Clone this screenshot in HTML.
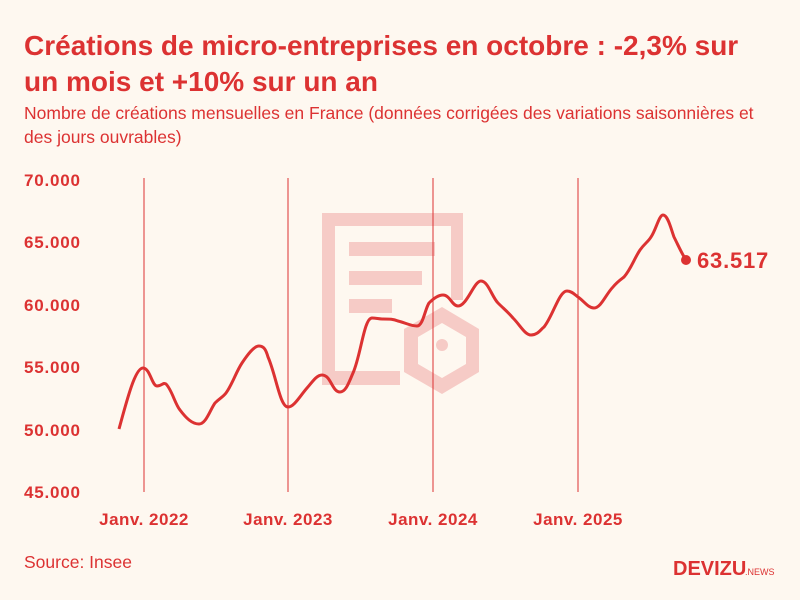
<!DOCTYPE html>
<html><head><meta charset="utf-8"><style>
body{margin:0;width:800px;height:600px;background:#fef8f0;font-family:"Liberation Sans",sans-serif;overflow:hidden;position:relative}
.t{position:absolute;left:24px;top:28px;font-size:28px;font-weight:bold;color:#dc3232;line-height:36px;width:740px}
.s{position:absolute;left:24px;top:101px;font-size:17.5px;color:#dc3232;line-height:24px;width:755px}
.src{position:absolute;left:24px;top:552px;font-size:17.5px;color:#dc3232}
</style></head><body>
<div class="t">Créations de micro-entreprises en octobre : -2,3% sur un mois et +10% sur un an</div>
<div class="s">Nombre de créations mensuelles en France (données corrigées des variations saisonnières et des jours ouvrables)</div>
<svg width="800" height="600" style="position:absolute;left:0;top:0">
<g fill="#f6cbc6">
<path d="M322 213H463V300H451V226H335V371H400V385H322Z"/>
<rect x="349" y="242" width="86" height="14"/><rect x="349" y="271" width="73" height="14"/><rect x="349" y="299" width="43" height="14"/>
<path d="M442 307L479 329V372L442 394L404 372V329ZM442 323L418 337V364L442 378L466 364V337Z"/>
<circle cx="442" cy="345" r="6"/>
</g>
<g stroke="#dc3232" stroke-width="1"><line x1="144" y1="178" x2="144" y2="492"/><line x1="288" y1="178" x2="288" y2="492"/><line x1="433" y1="178" x2="433" y2="492"/><line x1="578" y1="178" x2="578" y2="492"/></g>
<g font-size="17" font-weight="bold" fill="#dc3232" letter-spacing="0.8">
<text x="24" y="186">70.000</text><text x="24" y="248">65.000</text><text x="24" y="311">60.000</text><text x="24" y="373">55.000</text><text x="24" y="436">50.000</text><text x="24" y="498">45.000</text>
<g text-anchor="middle" letter-spacing="0.5"><text x="144" y="525">Janv. 2022</text><text x="288" y="525">Janv. 2023</text><text x="433" y="525">Janv. 2024</text><text x="578" y="525">Janv. 2025</text></g>
<text x="697" y="268" font-size="22" letter-spacing="0.8">63.517</text>
</g>
<path fill="none" stroke="#dc3232" stroke-width="3" stroke-linejoin="round" d="M119 429C127 400 135 368 143 368C150 368 152 386 157 386C162 386 163 382 166 384C172 390 175 404 180 410C186 418 192 424 199 424C206 424 210 410 215 403C220 398 223 397 226 393C232 385 236 372 242 363C248 354 254 346 259 346C264 346 266 350 268 357C276 375 280 407 288 407C294 407 300 396 307 388C313 381 317 375 322 375C331 375 332 392 340 392C346 392 349 382 353 373C361 355 364 318 372 318C376 318 379 319 383 319C390 319 393 319 398 321C406 323 411 326 417 326C423 326 425 309 429 303C434 298 439 295 443 295C450 295 452 306 458 306C467 306 474 281 481 281C488 281 492 297 498 303C504 309 508 312 513 318C520 325 525 335 531 335C538 335 541 329 544 327C553 316 559 291 567 291C572 291 575 295 578 297C584 301 588 308 594 308C601 308 606 294 613 287C617 282 620 280 624 277C631 269 634 259 640 250C645 243 648 242 651 237C656 230 659 215 663 215C668 215 671 229 674 237C679 247 682 254 686 260"/>
<circle cx="686" cy="260" r="5" fill="#dc3232"/>
<text x="673" y="575" font-size="20" font-weight="bold" fill="#dc3232">DEVIZU</text>
<text x="745" y="575" font-size="9" fill="#dc3232">.NEWS</text>
</svg>
<div class="src">Source: Insee</div>
</body></html>
